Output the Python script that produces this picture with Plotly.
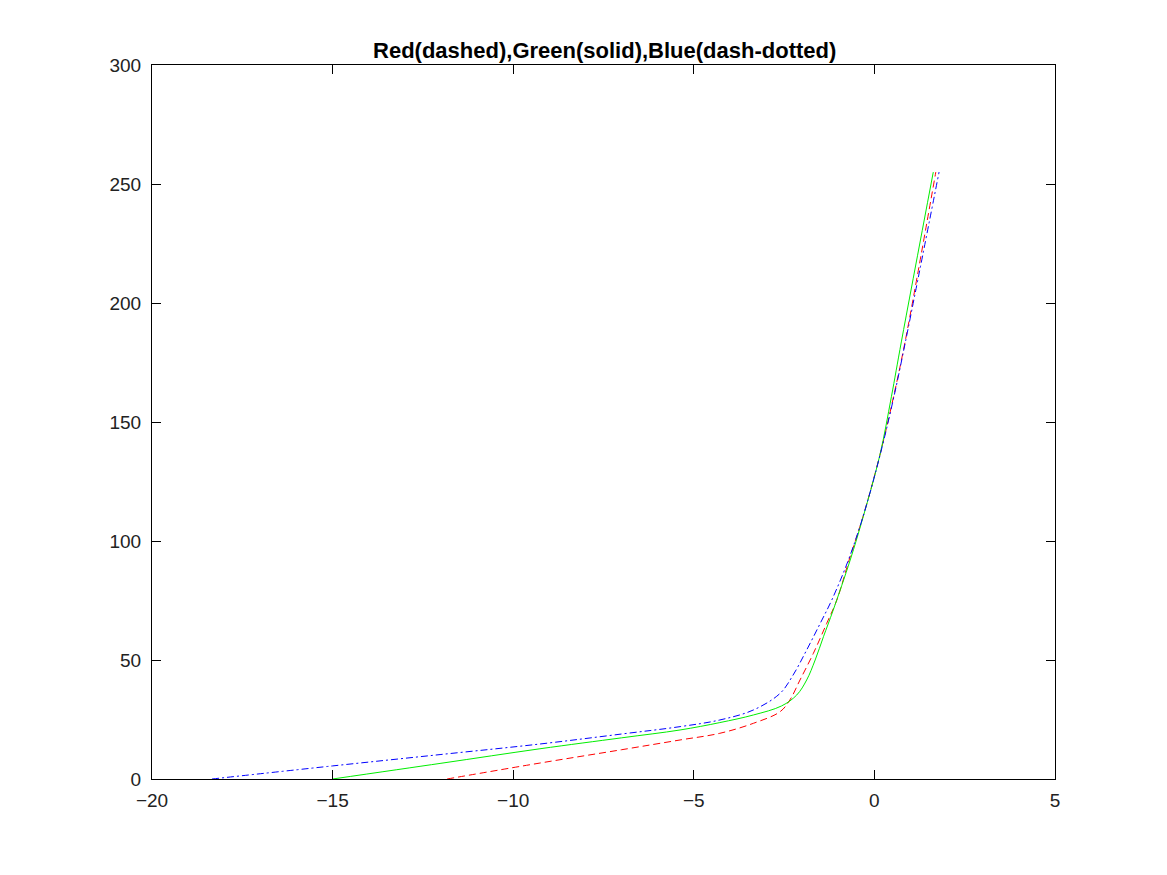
import plotly.graph_objects as go

# curve points
red_x = [-11.83, -9.26, -7.0, -5.38, -4.28, -3.35, -2.61, -2.34, -2.06, -1.69,
         -1.32, -1.04, -0.70, -0.31, 0.15, 0.53, 0.86, 1.70]
red_y = [0, 6.7, 12.3, 16.4, 19.2, 23.4, 28.3, 33.2, 41.6, 52.8,
         65.4, 75.2, 92, 110.5, 136, 160.6, 184.5, 255]

green_x = [-15.0, -12.0, -9.26, -7.0, -5.38, -4.28, -3.35, -2.57, -2.15, -1.875,
           -1.64, -1.41, -1.14, -0.67, -0.31, 0.15, 0.47, 0.75, 1.63]
green_y = [0, 6.6, 12.7, 17.3, 20.6, 23.7, 26.9, 30.7, 35.3, 41.6,
           50, 59.8, 71, 92, 110.2, 136, 160.6, 184, 255]

blue_x = [-18.34, -15.0, -12.0, -9.26, -7.0, -5.38, -4.28, -3.35, -2.61, -2.25,
          -1.875, -1.5, -1.18, -0.72, -0.31, 0.155, 0.54, 0.87, 1.79]
blue_y = [0, 5.5, 10.3, 14.7, 18.9, 22.0, 24.8, 29, 36, 43.7,
          54.2, 65.4, 75.2, 92, 110.5, 136, 160.6, 184.5, 255]

title_text = "Red(dashed),Green(solid),Blue(dash-dotted)"

fig = go.Figure()
fig.add_trace(go.Scatter(x=red_x, y=red_y, mode="lines",
                         line=dict(color="#ff0000", width=1, dash="7px,4px"),
                         line_shape="spline"))
fig.add_trace(go.Scatter(x=green_x, y=green_y, mode="lines",
                         line=dict(color="#00ee00", width=1),
                         line_shape="spline"))
fig.add_trace(go.Scatter(x=blue_x, y=blue_y, mode="lines",
                         line=dict(color="#0000ff", width=1, dash="7px,3px,2px,3px"),
                         line_shape="spline"))

axis_style = dict(
    showgrid=False, zeroline=False, showline=True, linecolor="black",
    linewidth=1, mirror="ticks", ticks="inside", ticklen=9,
    tickcolor="black", tickfont=dict(size=19, color="#222222"),
)

# page body has an 8px margin, so the figure margins are shifted by that much
fig.update_layout(
    width=1167, height=875,
    paper_bgcolor="white", plot_bgcolor="white",
    showlegend=False,
    font=dict(family="Liberation Sans, Arial, sans-serif"),
    margin=dict(l=144, r=120, t=57, b=104),
    title=dict(text="<b>" + title_text + "</b>", x=0.5113, xanchor="center",
               y=0.952, yanchor="middle", font=dict(size=22, color="black")),
)
fig.update_xaxes(range=[-20, 5], dtick=5, ticklabelstandoff=4, **axis_style)
fig.update_yaxes(range=[0, 300], dtick=50, ticklabelstandoff=6, **axis_style)

fig.write_html("out.html")
